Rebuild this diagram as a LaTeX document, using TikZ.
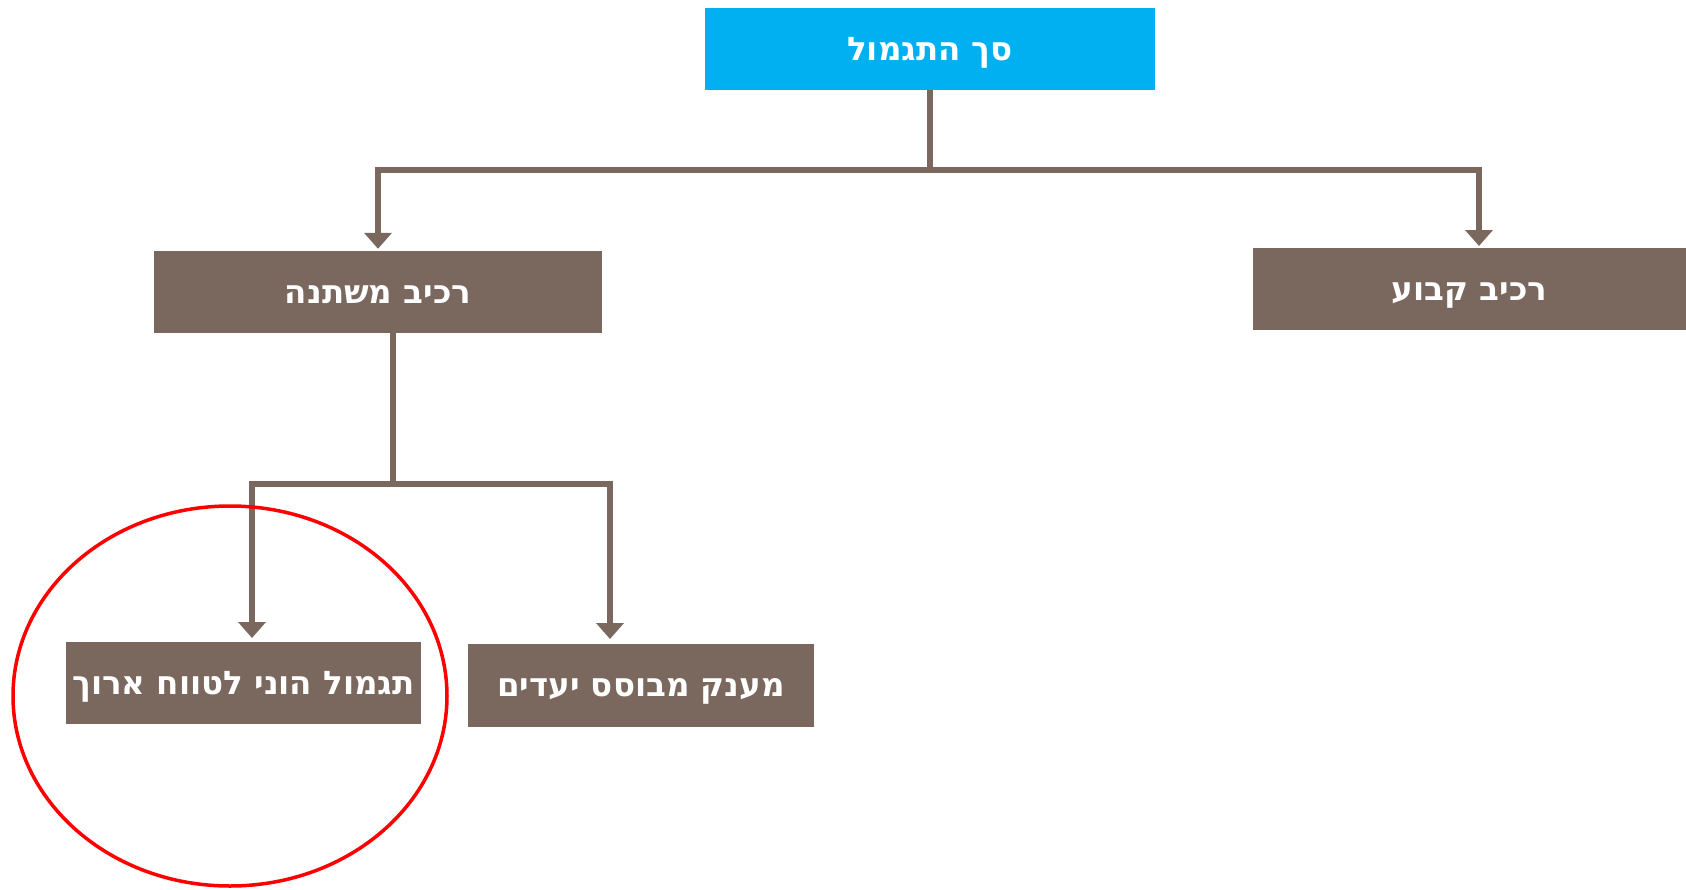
\documentclass[tikz,border=0pt]{standalone}
\usepackage{fontspec}
\setmainfont{Liberation Sans}
\newfontfamily\hebfont[Script=Hebrew]{DejaVu Sans}
\TeXXeTstate=1
\usetikzlibrary{arrows.meta}
\definecolor{brownbox}{RGB}{122,104,95}
\definecolor{bluebox}{RGB}{0,176,240}
\definecolor{ringred}{RGB}{255,0,0}
\tikzset{
  box/.style={rectangle, fill=brownbox, text=white, inner sep=0pt, minimum height=82pt,
    text height=22pt, text depth=0pt,
    font=\hebfont\bfseries\fontsize{32.5}{38}\selectfont},
  topbox/.style={box, fill=bluebox},
  conn/.style={draw=brownbox, line width=5.5pt, -{Triangle[width=27pt,length=16pt]}}
}
\begin{document}
\begin{tikzpicture}[x=1pt,y=-1pt]
\useasboundingbox (0,0) rectangle (1686,889);
\node[topbox, minimum width=450pt] (top) at (930,49) {\beginR סך התגמול\endR};
\node[box, minimum width=448pt] (var) at (378,292) {\beginR רכיב משתנה\endR};
\node[box, minimum width=433pt] (fix) at (1469.5,289) {\beginR רכיב קבוע\endR};
\node[box, minimum width=355pt] (lt) at (243.5,683) {\beginR תגמול הוני לטווח ארוך\endR};
\node[box, minimum width=346pt, minimum height=83pt] (goal) at (641,685.5) {\beginR מענק מבוסס יעדים\endR};
\coordinate (fixin) at (1479,246);
\coordinate (varout) at (393,333);
\coordinate (ltin) at (252,638);
\coordinate (goalin) at (610,639);
\draw[conn] (top.south) -- (930,170) -| ([yshift=2pt]var.north);
\draw[conn] (top.south) -- (930,170) -| (fixin);
\draw[conn] (varout) -- (393,484) -| (ltin);
\draw[conn] (varout) -- (393,484) -| (goalin);
\draw[ringred, line width=3.5pt] (230,696) ellipse [x radius=217, y radius=190];
\end{tikzpicture}
\end{document}
